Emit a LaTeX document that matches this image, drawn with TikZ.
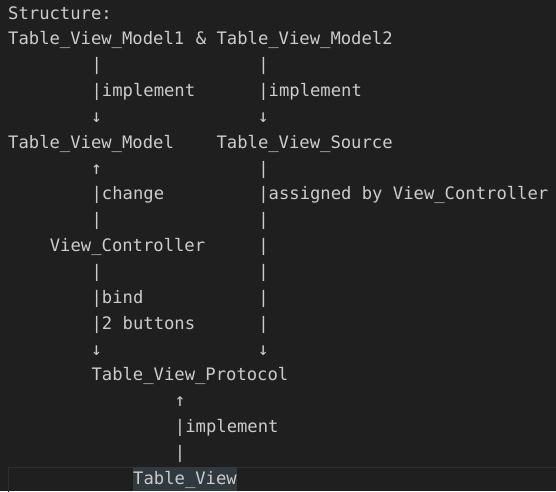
\documentclass[tikz,border=0pt]{standalone}
\usepackage{fontspec}
\setmonofont{DejaVu Sans Mono}
\usetikzlibrary{positioning}
\definecolor{bg}{HTML}{1F1F1F}
\definecolor{fg}{HTML}{CCCCCC}
\definecolor{hl}{HTML}{2F393E}
\definecolor{curln}{HTML}{2E2E2E}

\begin{document}
\begin{tikzpicture}[x=10.42pt, y=-25.85pt,
txt/.style={font=\ttfamily\fontsize{17.2}{20}\selectfont, text=fg, inner sep=0, anchor=base west},
arr/.style={font=\ttfamily\fontsize{18}{20}\selectfont, text=fg, inner sep=0, anchor=base},
sel/.style={txt, fill=hl, text height=17.3pt, text depth=7pt}]
	\useasboundingbox (0pt,0pt) rectangle (556pt,-491pt);
	\clip (0pt,0pt) rectangle (556pt,-491pt);
	\fill[bg] (0pt,0pt) rectangle (556pt,-491pt);
	\draw[curln, line width=1.5pt] (8.5pt,-467.5pt) rectangle (600pt,-520pt);
	\begin{scope}[shift={(8pt,-19pt)}]
	\node[txt] at (0,0) (st) {Structure:};
	\node[txt] at (0,1) (tvm1) {Table\_View\_Model1};
	\node[txt] at (18,1) (amp) {\&};
	\node[txt] at (20,1) (tvm2) {Table\_View\_Model2};
	\node[txt] at (0,5) (tvm) {Table\_View\_Model};
	\node[txt] at (20,5) (tvs) {Table\_View\_Source};
	\node[txt] at (4,9) (vc) {View\_Controller};
	\node[txt] at (8,14) (tvp) {Table\_View\_Protocol};
	\node[sel] at (12,18) (tv) {Table\_View};
	% pipes
	\foreach \r in {2,3,7,8,10,11,12}
		\node[txt] at (8,\r) (pa\r) {|};
	\foreach \r in {2,3,6,7,8,9,10,11,12}
		\node[txt] at (24,\r) (pb\r) {|};
	\foreach \r in {16,17}
		\node[txt] at (16,\r) (pc\r) {|};
	% arrows
	\node[arr] at (8.5,4) (da1) {↓};
	\node[arr] at (24.5,4) (db1) {↓};
	\node[arr] at (8.5,6) (ua1) {↑};
	\node[arr] at (8.5,13) (da2) {↓};
	\node[arr] at (24.5,13) (db2) {↓};
	\node[arr] at (16.5,15) (uc1) {↑};
	% labels
	\node[txt] at (9,3) (l1) {implement};
	\node[txt] at (25,3) (l2) {implement};
	\node[txt] at (9,7) (l3) {change};
	\node[txt] at (25,7) (l4) {assigned by View\_Controller};
	\node[txt] at (9,11) (l5) {bind};
	\node[txt] at (9,12) (l6) {2 buttons};
	\node[txt] at (17,16) (l7) {implement};
	\end{scope}
\end{tikzpicture}
\end{document}
